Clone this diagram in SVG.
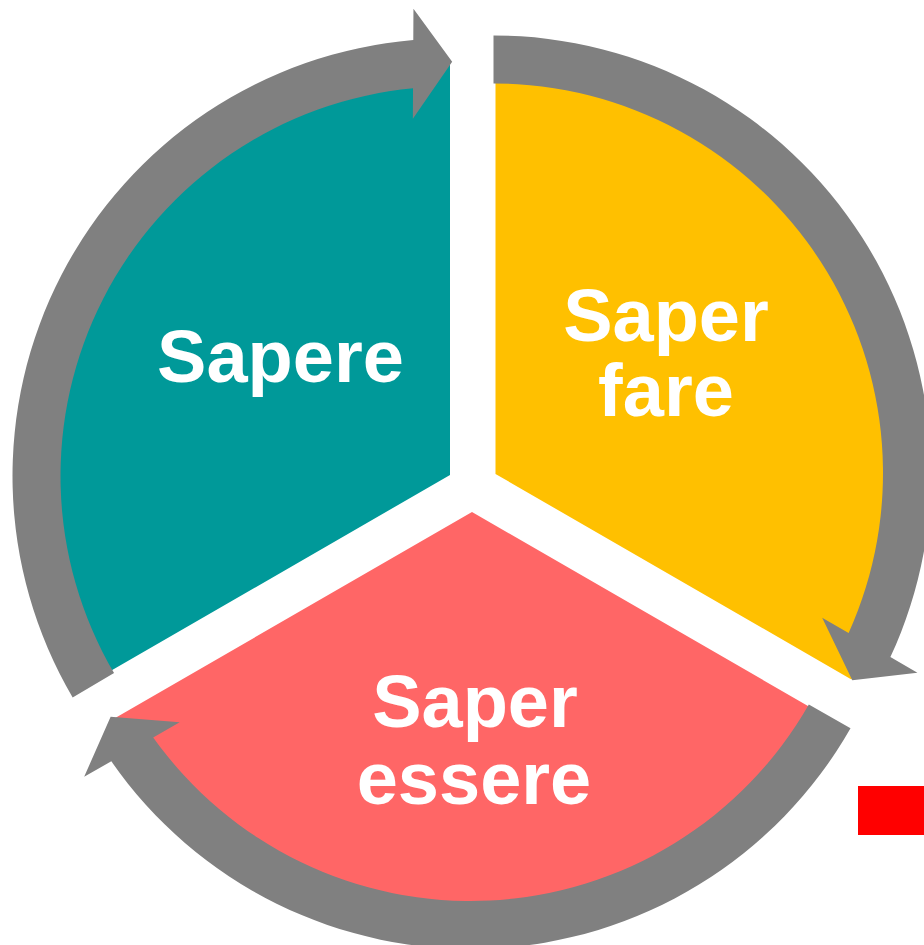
<svg xmlns="http://www.w3.org/2000/svg" width="924" height="945" viewBox="0 0 924 945">
<style>
.lbl{font-family:"Liberation Sans",Arial,sans-serif;font-weight:bold;font-size:74px;fill:#FFFFFF;text-anchor:middle}
.arrow{fill:#808080}
</style>
<rect x="0" y="0" width="924" height="945" fill="#FFFFFF"/>
<g id="sapere">
<path d="M 450 475 L 94.06 680.5 A 411 411 0 0 1 450 64 Z" fill="#009999"/>
<text class="lbl" x="280.5" y="382">Sapere</text>
</g>
<g id="saper-fare">
<path d="M 495.5 474 L 495.5 63 A 411 411 0 0 1 851.44 679.5 Z" fill="#FFC000"/>
<text class="lbl" x="666" y="341">Saper</text>
<text class="lbl" x="666" y="416">fare</text>
</g>
<g id="saper-essere">
<path d="M 472 512 L 827.94 717.5 A 411 411 0 0 1 116.06 717.5 Z" fill="#FF6666"/>
<text class="lbl" x="475" y="727">Saper</text>
<text class="lbl" x="474" y="804">essere</text>
</g>
<g id="connectors">
<path class="arrow" d="M 72.65 697.39 A 437.5 437.5 0 0 1 413.28 40.05 L 413.45 8.81 L 452.17 61.71 L 412.87 118.81 L 413.03 88.27 A 389.5 389.5 0 0 0 114.05 673.10 Z"/>
<path class="arrow" d="M 493.5 35.5 A 437.5 437.5 0 0 1 890.38 657.10 L 917.43 672.72 L 852.30 680.15 L 822.17 617.72 L 848.62 632.99 A 389.5 389.5 0 0 0 493.5 83.5 Z"/>
<path class="arrow" d="M 850.53 728.26 A 437.5 437.5 0 0 1 111.31 761.28 L 84.17 776.76 L 110.63 716.77 L 179.72 722.26 L 153.19 737.39 A 389.5 389.5 0 0 0 808.83 704.48 Z"/>
</g>
<rect x="858" y="786" width="70" height="49" fill="#FF0000"/>
</svg>
